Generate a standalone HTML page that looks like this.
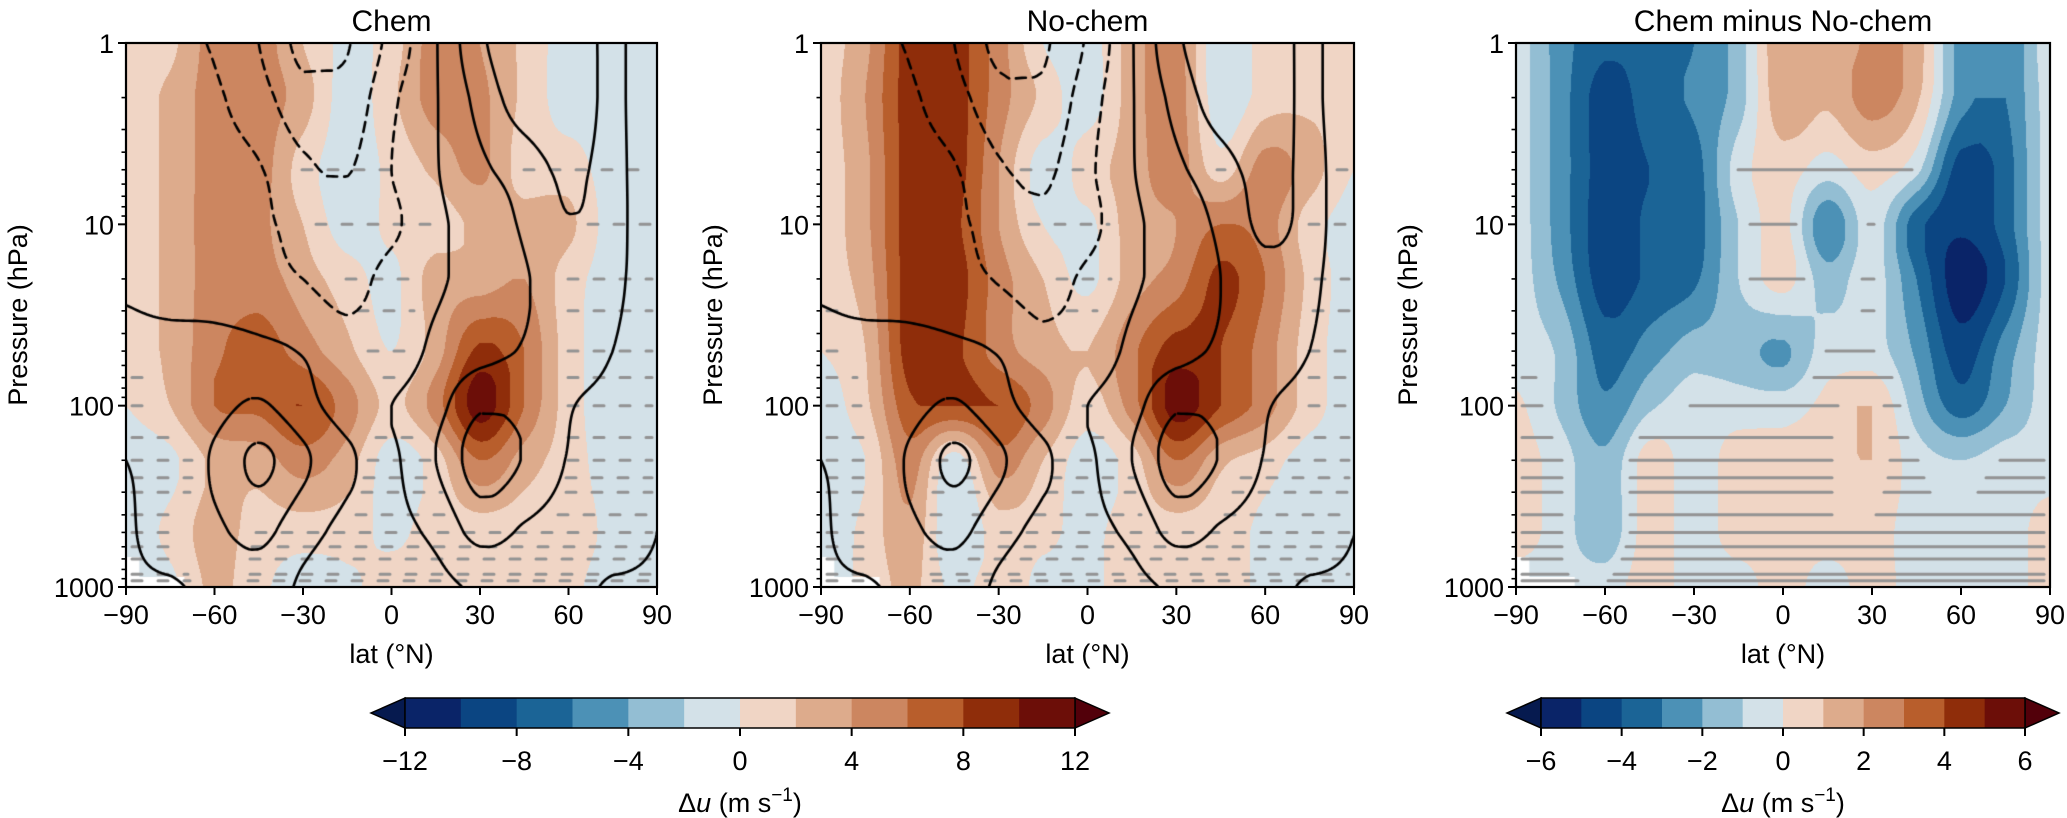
<!DOCTYPE html>
<html><head><meta charset="utf-8">
<style>
html,body{margin:0;padding:0;background:#fff;width:2067px;height:818px;overflow:hidden;font-family:"Liberation Sans","DejaVu Sans",sans-serif;}
#wrap{position:relative;width:2067px;height:818px;}
canvas{position:absolute;}
svg{position:absolute;left:0;top:0;}
</style></head><body>
<div id="wrap">
<canvas id="c0"></canvas>
<canvas id="c1"></canvas>
<canvas id="c2"></canvas>
<svg id="ov" width="2067" height="818"></svg>
</div>
<script>
const LATS=[-90,-75,-60,-45,-30,-15,0,15,30,45,60,75,90];
const LEVS=[1,2,5,10,20,50,100,200,500,1000];
const chemFill=[
[1,1.5,5,5,2,-0.5,1,5,4,1.5,-1,-1,-1],
[1,2.5,5,5,3,-1,1.5,5,4.5,1.5,-1,-1,-1],
[1,2.5,5,5,1,-1,0.5,2.5,4.5,1,1,-1,-1],
[1,2.5,5,4.5,2,-1,0.5,1,2.5,3,2.5,-1,-1],
[1,2.5,5,5,3,1,-0.5,3,3,4,1,-1,-1],
[1,2.5,5.5,7,5,2.5,0,3,8.5,6,1,-1,-1],
[0,2,6,6.5,8,5,1.5,5,11,6,1,-1,-1],
[-1,-0.5,2.5,3,5,3,-1,1,6,3,1,-1,-1],
[-1,0.5,3,1,1,1,-0.5,1,1,1,1,-0.5,-1],
[-1,-0.5,2.5,0.5,-1,-0.5,1,1,1,1,0.5,-1,-1]];
const nochemFill=[
[1,3.5,9,9,5,0,-1,3,5,-2,1,1,0],
[1,4,9,9,5,1.5,-1,3,5,-1.5,1,1.5,1],
[1,3.5,9,9,4,-1,1,3,5,1,5,3,0],
[1,3.5,9,8.5,4,0,-0.5,3,4,6,5,1,-1],
[1,3,9,9,5,2,-0.5,3,5,8.5,6,1.5,-1],
[0,2,9,8.5,5,3,2,5.5,9,8,5,1,-1],
[-1,1.5,7.5,8,8,5,1,5,11,8,5,1,-1],
[-1,0,5,-1,5,2,-1,1,6,2.5,1,-1,-1],
[-1,0.5,3.5,-2,1,0.5,-0.5,1,1,1,-0.5,-1,-1],
[-1,0.5,2.5,-0.5,1,-0.5,-0.5,1,1,1,-0.5,-1,-1]];
const diffFill=[
[-0.5,-2.5,-3.8,-3.5,-3,-1.5,2,1.2,2.2,1.5,-2.5,-3,-0.3],
[-0.5,-2.5,-4.5,-3.5,-2.8,-1.5,1.8,1.2,2.5,1.2,-2.5,-3,-0.5],
[-0.5,-2.5,-4.5,-4,-3.5,-0.5,0.5,-0.5,0.5,-0.7,-4.5,-3.5,-0.5],
[-0.5,-2.5,-4.6,-3.8,-3.5,-1,0.3,-2.8,-0.5,-3.6,-4.8,-3.5,-0.5],
[-0.5,-2.2,-4.5,-3.8,-3.2,-1,0.4,-1.5,-0.5,-3,-5.6,-4,-0.5],
[-0.5,-1.2,-3.5,-2.5,-1.5,-1.6,-2.2,-0.5,-0.5,-2.2,-4.5,-2.5,-0.5],
[0.2,-1.2,-2.8,-1.2,-0.5,-0.5,-0.5,0.3,1,-1.5,-3.5,-2,-0.5],
[0.5,-0.5,-1.8,0.5,-0.5,0.5,0.5,0.5,1,-0.5,-1,-0.5,-0.5],
[0.5,-0.5,-1.7,0.5,-0.5,0.5,0.5,0.5,0.5,-0.5,-0.5,-0.5,0.5],
[-0.5,-0.5,-0.5,0.5,-0.5,-0.5,0.5,-0.5,0.5,-0.5,-0.5,-0.5,0.5]];
const chemClim=[
[-5,-14,-16,-30,-49,-46,-25,-1,27,40,42,22,0],
[-5,-10,-13,-24,-40,-40,-18,-1,20,38,42,22,0],
[-5,-8,-10,-14,-27,-31,-15,-1,12,22,33,22,0],
[-1,-5,-8,-12,-20,-24,-18,-3,6,17,29,22,0],
[-1,-4,-6,-9,-15,-20,-10,-2,5,14,20,20,0],
[2,3,4,3,-1,-10,-8,3,10,16,20,15,0],
[2,5,10,17,5,-5,0,10,28,25,16,10,0],
[0,4,17,33,18,2,-2,15,37,29,14,6,0],
[-1,5,12,19,5,-3,-3,3,20,13,8,5,0],
[-1,-1,3,8,-2,-5,-5,-3,2,5,3,-1,-1]];
const nochemClim=[
[-5,-14,-16,-30,-49,-47,-28,-1,27,40,42,22,0],
[-5,-10,-13,-24,-40,-42,-22,-1,20,38,42,22,0],
[-5,-8,-10,-14,-28,-33,-18,-1,12,24,35,24,0],
[-1,-5,-8,-12,-21,-27,-20,-3,6,18,33,24,0],
[-1,-4,-6,-9,-16,-21,-12,-2,5,15,25,20,0],
[2,3,4,3,-1,-11,-9,3,10,17,20,15,0],
[2,5,10,17,5,-5,0,10,28,25,16,10,0],
[0,4,17,33,18,2,-2,15,37,29,14,6,0],
[-1,5,12,19,5,-3,-3,3,20,13,8,5,0],
[-1,-1,3,8,-2,-5,-5,-3,2,5,3,-1,-1]];
const climLevels=[-45,-30,-15,0,15,30];
const stippleLevels=[5,10,20,30,50,70,100,150,200,250,300,400,500,600,700,850,925];
const cbTicks1=[-12,-8,-4,0,4,8,12];
const cbTicks2=[-6,-4,-2,0,2,4,6];
const xTicks=[-90,-60,-30,0,30,60,90];
const yTicks=[1,10,100,1000];

const COLORS=['#0a2468','#0b4582','#1b6496','#4c91b6','#93bed3','#d3e1e8','#f0d5c5','#ddab8c','#cc8660','#b85e2c','#8f2d0a','#6c0e08'];
const EXT_LO='#061a4f', EXT_HI='#52000a';
const PANELS=[
 {x:126,y:43,w:531,h:544,title:'Chem',fill:chemFill,clim:chemClim,vmin:-12,step:2,stip:2,dash:true},
 {x:821,y:43,w:533,h:544,title:'No-chem',fill:nochemFill,clim:nochemClim,vmin:-12,step:2,stip:2,dash:true},
 {x:1516,y:43,w:534,h:544,title:'Chem minus No-chem',fill:diffFill,clim:null,vmin:-6,step:1,stip:1,dash:false}];
const LOGL=LEVS.map(p=>Math.log10(p));

function cub(p0,p1,p2,p3,t){
  const v=p1+0.5*t*(p2-p0+t*(2*p0-5*p1+4*p2-p3+t*(3*(p1-p2)+p3-p0)));
  return Math.max(Math.min(p1,p2),Math.min(Math.max(p1,p2),v));
}
function row(grid,j,i,ti){
  const r=grid[j],n=r.length;
  const g=k=>r[Math.max(0,Math.min(n-1,k))];
  return cub(g(i-1),g(i),g(i+1),g(i+2),ti);
}
function sample(grid,lat,lp){
  let fi=(lat+90)/15; fi=Math.max(0,Math.min(LATS.length-1.0001,fi));
  const i=Math.floor(fi), ti=fi-i;
  let j=0; while(j<LOGL.length-2 && lp>LOGL[j+1]) j++;
  let tj=(lp-LOGL[j])/(LOGL[j+1]-LOGL[j]); tj=Math.max(0,Math.min(1,tj));
  const m=grid.length, J=k=>Math.max(0,Math.min(m-1,k));
  return cub(row(grid,J(j-1),i,ti),row(grid,J(j),i,ti),row(grid,J(j+1),i,ti),row(grid,J(j+2),i,ti),tj);
}
function hexRGB(h){return [parseInt(h.substr(1,2),16),parseInt(h.substr(3,2),16),parseInt(h.substr(5,2),16)];}
const RGB=COLORS.map(hexRGB);

function drawPanel(k){
  const P=PANELS[k];
  const cv=document.getElementById('c'+k);
  cv.width=P.w; cv.height=P.h; cv.style.left=P.x+'px'; cv.style.top=P.y+'px';
  const ctx=cv.getContext('2d');
  const img=ctx.createImageData(P.w,P.h);
  for(let py=0;py<P.h;py++){
    const lp=3*(py+0.5)/P.h;
    for(let px=0;px<P.w;px++){
      const lat=-90+180*(px+0.5)/P.w;
      const v=sample(P.fill,lat,lp);
      let b=Math.floor((v-P.vmin)/P.step); b=Math.max(0,Math.min(11,b));
      const c=RGB[b]; const o=(py*P.w+px)*4;
      img.data[o]=c[0];img.data[o+1]=c[1];img.data[o+2]=c[2];img.data[o+3]=255;
    }
  }
  ctx.putImageData(img,0,0);
  ctx.fillStyle='#fff';
  ctx.fillRect(0,P.h-10,P.w*0.11,10); ctx.fillRect(0,P.h-30,P.w*0.025,30);
  ctx.strokeStyle='#939393'; ctx.lineWidth=3; ctx.lineCap='round';
  stippleLevels.forEach(p=>{
    const yy=P.h*Math.log10(p)/3; const lp=Math.log10(p);
    ctx.setLineDash(P.dash?[10,16]:[]);
    let start=null;
    for(let px=0;px<=P.w;px+=2){
      const lat=-90+180*px/P.w;
      const v=px<P.w?sample(P.fill,lat,lp):99;
      const ok=Math.abs(v)<P.stip*0.55 && px>4 && px<P.w-4;
      if(ok&&start===null) start=px;
      if(!ok&&start!==null){ if(px-start>4){ctx.beginPath();ctx.moveTo(start,yy);ctx.lineTo(px-2,yy);ctx.stroke();} start=null;}
    }
  });
  ctx.setLineDash([]);
  if(P.clim) drawContours(ctx,P);
}

function drawContours(ctx,P){
  const S=3, nx=Math.ceil(P.w/S)+1, ny=Math.ceil(P.h/S)+1;
  const F=[];
  for(let j=0;j<ny;j++){const r=[];for(let i=0;i<nx;i++){r.push(sample(P.clim,-90+180*Math.min(P.w,i*S)/P.w,3*Math.min(P.h,j*S)/P.h));}F.push(r);}
  ctx.strokeStyle='#000'; ctx.lineWidth=2.6; ctx.lineJoin='round';
  climLevels.forEach(L=>{
    const pts={}, adj={};
    function key(t,i,j){return t+','+i+','+j;}
    function pt(t,i,j){
      const k=key(t,i,j); if(pts[k]) return k;
      let x,y;
      if(t==='h'){const a=F[j][i],b=F[j][i+1];const f=(L-a)/(b-a);x=(i+f)*S;y=j*S;}
      else{const a=F[j][i],b=F[j+1][i];const f=(L-a)/(b-a);x=i*S;y=(j+f)*S;}
      pts[k]=[x,y]; return k;
    }
    function link(a,b){(adj[a]=adj[a]||[]).push(b);(adj[b]=adj[b]||[]).push(a);}
    for(let j=0;j<ny-1;j++)for(let i=0;i<nx-1;i++){
      const v0=F[j][i]>L,v1=F[j][i+1]>L,v2=F[j+1][i+1]>L,v3=F[j+1][i]>L;
      const e=[];
      if(v0!==v1)e.push(pt('h',i,j));
      if(v1!==v2)e.push(pt('v',i+1,j));
      if(v3!==v2)e.push(pt('h',i,j+1));
      if(v0!==v3)e.push(pt('v',i,j));
      if(e.length===2)link(e[0],e[1]);
      else if(e.length===4){link(e[0],e[1]);link(e[2],e[3]);}
    }
    const used={};
    ctx.setLineDash(L<0?[10,7]:[]);
    function walk(s){
      ctx.beginPath(); let c=s, prev=null; ctx.moveTo(pts[c][0],pts[c][1]); used[c]=1;
      while(true){const n=(adj[c]||[]).find(q=>q!==prev&&!used[q]); if(!n)break; ctx.lineTo(pts[n][0],pts[n][1]); used[n]=1; prev=c; c=n;}
      ctx.stroke();
    }
    Object.keys(adj).forEach(k=>{if(!used[k]&&adj[k].length===1)walk(k);});
    Object.keys(adj).forEach(k=>{if(!used[k])walk(k);});
  });
  ctx.setLineDash([]);
}
[0,1,2].forEach(drawPanel);

const NS='http://www.w3.org/2000/svg';
const ov=document.getElementById('ov');
function mk(tag,attrs,name,parent){const e=document.createElementNS(NS,tag);for(const a in attrs)e.setAttribute(a,attrs[a]);
 
 
 (parent||ov).appendChild(e);return e;}
function txt(s,x,y,size,anchor,name,extra){const t=mk('text',Object.assign({x:x,y:y,'font-size':size,'text-anchor':anchor||'middle',fill:'#000','font-family':'Liberation Sans, DejaVu Sans, sans-serif'},extra||{}),name);t.textContent=s;return t;}
function fmt(v){return v<0?'\u2212'+Math.abs(v):String(v);}

PANELS.forEach((P,k)=>{
  const g=mk('g',{},'panel-'+(k+1)+'-axes');
  mk('rect',{x:P.x,y:P.y,width:P.w,height:P.h,fill:'none',stroke:'#000','stroke-width':2.2},'plot-frame',g);
  txt(P.title,P.x+P.w/2,31,30,'middle','panel-title');
  xTicks.forEach(l=>{const x=P.x+(l+90)/180*P.w;
    mk('line',{x1:x,x2:x,y1:P.y+P.h,y2:P.y+P.h+8,stroke:'#000','stroke-width':2},'x-tick',g);
    txt(fmt(l),x,P.y+P.h+37,27,'middle','x-tick-label');});
  for(let d=0;d<3;d++)for(let m=2;m<10;m++){const y=P.y+P.h*(d+Math.log10(m))/3;
    mk('line',{x1:P.x-4.5,x2:P.x,y1:y,y2:y,stroke:'#000','stroke-width':1.6},'y-minor-tick',g);}
  yTicks.forEach(p=>{const y=P.y+P.h*Math.log10(p)/3;
    mk('line',{x1:P.x-8,x2:P.x,y1:y,y2:y,stroke:'#000','stroke-width':2},'y-tick',g);
    txt(String(p),P.x-12,y+10,27,'end','y-tick-label');});
  txt('lat (\u00B0N)',P.x+P.w/2,P.y+P.h+76,27,'middle','x-axis-title');
  txt('Pressure (hPa)',0,0,27,'middle','y-axis-title',{transform:'translate('+(P.x-99)+','+(P.y+P.h/2)+') rotate(-90)'});
});

function colorbar(x0,x1,vmin,vmax,ticks,name){
  const g=mk('g',{},name);
  const y0=698,y1=728,tip=34,n=12,bw=(x1-x0)/n;
  mk('polygon',{points:(x0)+','+y0+' '+(x0-tip)+','+((y0+y1)/2)+' '+x0+','+y1,fill:EXT_LO,stroke:'#000','stroke-width':1.5},'colorbar-extend-low',g);
  mk('polygon',{points:(x1)+','+y0+' '+(x1+tip)+','+((y0+y1)/2)+' '+x1+','+y1,fill:EXT_HI,stroke:'#000','stroke-width':1.5},'colorbar-extend-high',g);
  COLORS.forEach((c,i)=>{mk('rect',{x:x0+i*bw,y:y0,width:bw+0.6,height:y1-y0,fill:c},'colorbar-band',g);});
  mk('rect',{x:x0,y:y0,width:x1-x0,height:y1-y0,fill:'none',stroke:'#000','stroke-width':1.5},'colorbar-frame',g);
  ticks.forEach(v=>{const x=x0+(v-vmin)/(vmax-vmin)*(x1-x0);
    mk('line',{x1:x,x2:x,y1:y1,y2:y1+8,stroke:'#000','stroke-width':2},'colorbar-tick',g);
    txt(fmt(v),x,y1+42,27,'middle','colorbar-tick-label');});
  const t=txt('',(x0+x1)/2,812,27,'middle','colorbar-label');
  t.innerHTML='\u0394<tspan font-style="italic">u</tspan> (m s<tspan dy="-11" font-size="19">\u22121</tspan><tspan dy="11">)</tspan>';
}
colorbar(405,1075,-12,12,cbTicks1,'colorbar-absolute');
colorbar(1541,2025,-6,6,cbTicks2,'colorbar-difference');
</script>
</body></html>
